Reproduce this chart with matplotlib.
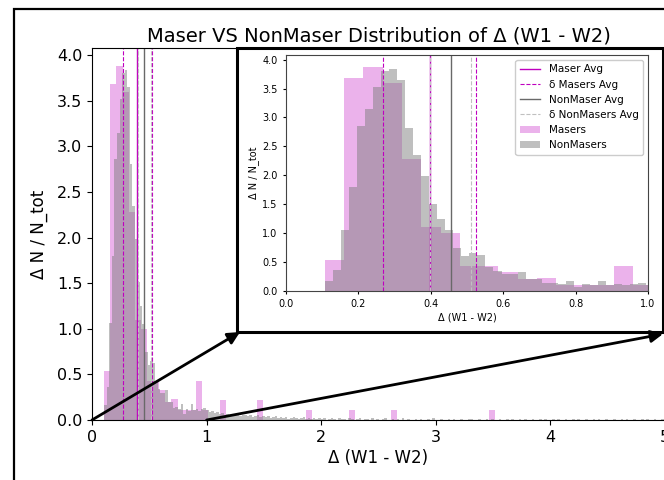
import numpy as np
import matplotlib
matplotlib.use('Agg')
import matplotlib.pyplot as plt
from matplotlib.patches import Rectangle, ConnectionPatch

# ============================================================
# 数据 (从图中读取的直方图高度, density)
# ============================================================

# Masers: bin 起点 0.107, 宽度 0.0533
maser_start = 0.107
maser_width = 0.0533
maser_heights = [
    0.54, 3.68, 3.88, 3.60, 2.28, 1.10, 1.00, 0.43, 0.43, 0.33,
    0.20, 0.23, 0.11, 0.11, 0.11, 0.43, 0.11, 0.00, 0.00, 0.22,
    0.00, 0.00, 0.00, 0.00, 0.00, 0.22, 0.00, 0.00, 0.00, 0.00,
    0.00, 0.00, 0.00, 0.11, 0.00, 0.00, 0.00, 0.00, 0.00, 0.00,
    0.11, 0.00, 0.00, 0.00, 0.00, 0.00, 0.00, 0.11, 0.00, 0.00,
    0.00, 0.00, 0.00, 0.00, 0.00, 0.00, 0.00, 0.00, 0.00, 0.00,
    0.00, 0.00, 0.00, 0.11,
]

# NonMasers: bin 起点 0.107, 宽度 0.0222
nonmaser_start = 0.107
nonmaser_width = 0.0222
nonmaser_core = [
    0.17, 0.36, 1.06, 1.80, 2.86, 3.15, 3.52, 3.81, 3.84, 3.65,
    2.81, 2.35, 1.98, 1.51, 1.25, 1.05, 0.75, 0.60, 0.65, 0.62,
    0.42, 0.34, 0.30, 0.30, 0.33, 0.20, 0.20, 0.13, 0.14, 0.12,
    0.18, 0.07, 0.12, 0.10, 0.18, 0.11, 0.12, 0.10, 0.12, 0.13,
]
nonmaser_tail = [
    0.11, 0.09, 0.10, 0.08, 0.09, 0.07, 0.08, 0.06, 0.07, 0.05,
    0.06, 0.07, 0.05, 0.04, 0.06, 0.05, 0.04, 0.05, 0.03, 0.04,
    0.05, 0.03, 0.04, 0.03, 0.04, 0.02, 0.03, 0.04, 0.02, 0.03,
    0.02, 0.03, 0.01, 0.02, 0.03, 0.02, 0.01, 0.02, 0.03, 0.01,
    0.02, 0.01, 0.02, 0.01, 0.02, 0.01, 0.02, 0.00, 0.01, 0.02,
    0.01, 0.00, 0.02, 0.01, 0.01, 0.00, 0.02, 0.01, 0.00, 0.01,
    0.02, 0.00, 0.01, 0.01, 0.00, 0.02, 0.00, 0.01, 0.00, 0.01,
    0.02, 0.00, 0.00, 0.01, 0.00, 0.01, 0.00, 0.02, 0.00, 0.01,
    0.00, 0.00, 0.01, 0.00, 0.01, 0.00, 0.00, 0.01, 0.00, 0.02,
    0.00, 0.00, 0.01, 0.00, 0.00, 0.01, 0.00, 0.01, 0.00, 0.00,
    0.01, 0.00, 0.00, 0.01, 0.01, 0.00, 0.00, 0.01, 0.00, 0.00,
    0.01, 0.00, 0.01, 0.00, 0.00, 0.01, 0.00, 0.00, 0.01, 0.00,
    0.01, 0.00, 0.00, 0.01, 0.00, 0.01, 0.00, 0.00, 0.01, 0.00,
    0.00, 0.01, 0.00, 0.01, 0.00, 0.00, 0.01, 0.00, 0.01, 0.00,
    0.00, 0.01, 0.00, 0.00, 0.01, 0.00, 0.01, 0.00, 0.00, 0.01,
    0.00, 0.00, 0.01, 0.00, 0.01, 0.00, 0.00, 0.01, 0.00, 0.00,
    0.01, 0.00, 0.00, 0.01, 0.00, 0.01, 0.00, 0.00, 0.01, 0.00,
    0.00, 0.01, 0.00, 0.01, 0.00, 0.00, 0.01, 0.00, 0.00, 0.01,
]
nonmaser_heights = nonmaser_core + nonmaser_tail

# 平均值与 δ 线
maser_avg = 0.397
maser_delta = [0.267, 0.525]
nonmaser_avg = 0.455
nonmaser_delta = [0.398, 0.512]

# ============================================================
# 绘图
# ============================================================

def draw_hist(ax):
    m_edges = maser_start + maser_width * np.arange(len(maser_heights) + 1)
    n_edges = nonmaser_start + nonmaser_width * np.arange(len(nonmaser_heights) + 1)
    ax.axvline(maser_avg, color='m', lw=1, label='Maser Avg')
    for i, x in enumerate(maser_delta):
        ax.axvline(x, color='m', lw=0.8, ls='--',
                   label='δ Masers Avg' if i == 0 else None)
    ax.axvline(nonmaser_avg, color='dimgray', lw=1, label='NonMaser Avg')
    for i, x in enumerate(nonmaser_delta):
        ax.axvline(x, color='silver', lw=0.8, ls='--',
                   label='δ NonMasers Avg' if i == 0 else None)
    ax.hist(m_edges[:-1], bins=m_edges, weights=maser_heights,
            color='m', alpha=0.3, label='Masers')
    ax.hist(n_edges[:-1], bins=n_edges, weights=nonmaser_heights,
            color='grey', alpha=0.5, label='NonMasers')


fig = plt.figure(figsize=(6.64, 4.8), dpi=100)

# 主图
ax = fig.add_axes([92 / 664, 60 / 480, 573 / 664, 372 / 480])
draw_hist(ax)
ax.set_xlim(0, 5)
ax.set_ylim(0, 4.08)
ax.set_yticks(np.arange(0, 4.01, 0.5))
ax.tick_params(labelsize=11.5)
ax.set_title('Maser VS NonMaser Distribution of Δ (W1 - W2)', fontsize=14, pad=5)
ax.set_xlabel('Δ (W1 - W2)', fontsize=12, labelpad=3)
ax.set_ylabel('Δ N / N_tot', fontsize=12, labelpad=6)

# 放大框 (粗黑边)
box = Rectangle((237 / 664, 148 / 480), 426 / 664, 284 / 480,
                transform=fig.transFigure, facecolor='white',
                edgecolor='black', lw=2.2, zorder=1)
fig.patches.append(box)

# 内嵌图
axin = fig.add_axes([286 / 664, 189 / 480, 362 / 664, 236 / 480], zorder=3)
draw_hist(axin)
axin.set_xlim(0, 1)
axin.set_ylim(0, 4.08)
axin.set_yticks(np.arange(0, 4.01, 0.5))
axin.tick_params(labelsize=7, length=2.5)
for s in axin.spines.values():
    s.set_edgecolor('#444444')
axin.set_xlabel('Δ (W1 - W2)', fontsize=7, labelpad=2)
axin.set_ylabel('Δ N / N_tot', fontsize=7, labelpad=2)
axin.legend(loc='upper right', fontsize=7.5, framealpha=1)

# 箭头
for xa, xb in [(0, (240 / 664, 148 / 480)), (1, (663 / 664, 146 / 480))]:
    con = ConnectionPatch(xyA=(xa, 0), coordsA=ax.transData,
                          xyB=xb, coordsB=fig.transFigure,
                          arrowstyle='-|>', lw=2, color='black',
                          mutation_scale=18, zorder=5)
    fig.add_artist(con)

# 外框
frame = Rectangle((13.5 / 664, -0.1), 1.2, 1.1 - 8.5 / 480,
                  transform=fig.transFigure, fill=False,
                  edgecolor='black', lw=1.6, zorder=6)
fig.patches.append(frame)

plt.savefig('out.png', dpi=100)
plt.close()
